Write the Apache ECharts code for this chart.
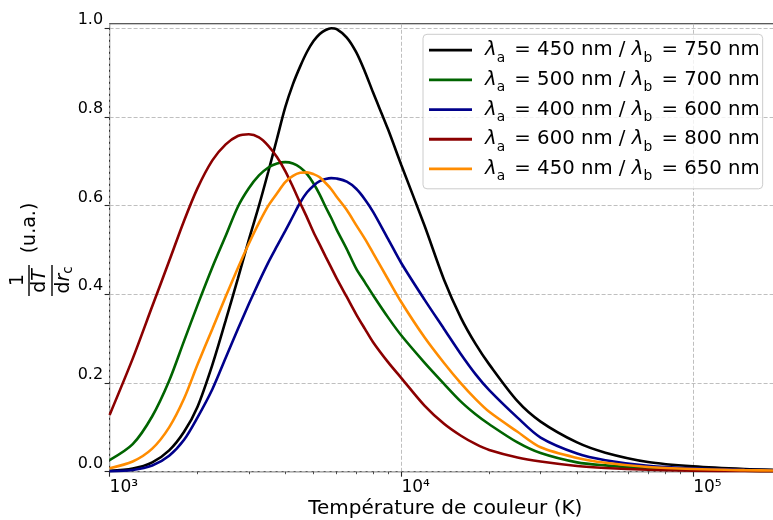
<!DOCTYPE html>
<html><head><meta charset="utf-8">
<script src="https://cdn.jsdelivr.net/npm/echarts@6/dist/echarts.min.js"></script>
<style>html,body{margin:0;padding:0;background:#fff}#c{width:773px;height:520px}</style>
</head><body><div id="c"></div>
<script>
// ---- data ----
const temperatures = [1000,1200,1400,1600,1800,2000,2250,2500,2750,3000,3250,3500,3750,4000,4250,4500,4750,5000,5250,5500,5750,6000,6500,7000,7500,8000,9000,10000,12000,14000,16000,18000,20000,25000,30000,40000,50000,70000,100000,150000,200000];
const curve450_750 = [0.002,0.007,0.021,0.048,0.09,0.146,0.241,0.341,0.435,0.523,0.600,0.677,0.752,0.822,0.874,0.914,0.947,0.971,0.987,0.996,1.0,0.998,0.979,0.946,0.902,0.855,0.772,0.691,0.555,0.433,0.347,0.287,0.242,0.159,0.113,0.066,0.043,0.022,0.012,0.006,0.004];
const curve500_700 = [0.026,0.062,0.125,0.205,0.295,0.375,0.461,0.532,0.597,0.639,0.668,0.686,0.695,0.698,0.695,0.686,0.671,0.650,0.625,0.597,0.572,0.546,0.502,0.458,0.427,0.398,0.348,0.307,0.246,0.198,0.158,0.129,0.107,0.066,0.042,0.021,0.0142,0.0075,0.0042,0.0022,0.0015];
const curve400_600 = [0.001,0.004,0.014,0.036,0.072,0.122,0.186,0.257,0.321,0.378,0.428,0.472,0.509,0.543,0.576,0.607,0.630,0.645,0.655,0.660,0.662,0.661,0.654,0.638,0.614,0.586,0.525,0.470,0.388,0.322,0.265,0.219,0.184,0.122,0.077,0.041,0.026,0.0135,0.0075,0.0045,0.003];
const curve600_800 = [0.128,0.255,0.373,0.475,0.566,0.639,0.702,0.738,0.757,0.761,0.754,0.735,0.709,0.678,0.642,0.606,0.573,0.540,0.512,0.485,0.460,0.436,0.394,0.355,0.322,0.292,0.247,0.211,0.149,0.108,0.081,0.062,0.049,0.032,0.023,0.013,0.0085,0.0045,0.0025,0.0015,0.001];
const curve450_650 = [0.008,0.023,0.052,0.100,0.165,0.241,0.322,0.395,0.459,0.514,0.561,0.600,0.628,0.653,0.667,0.674,0.675,0.671,0.664,0.651,0.637,0.620,0.590,0.556,0.525,0.493,0.434,0.382,0.303,0.245,0.199,0.163,0.135,0.090,0.055,0.031,0.020,0.0105,0.006,0.0035,0.0025];
const lambdaA = [450, 500, 400, 600, 450];
const lambdaB = [750, 700, 600, 800, 650];
const seriesColors = ['#000000', '#006400', '#00008b', '#8b0000', '#ff8c00'];
const seriesValues = [curve450_750, curve500_700, curve400_600, curve600_800, curve450_650];
const xMajorTicks = [1000, 10000, 100000];
const xMajorLabels = ['10³', '10⁴', '10⁵'];
const xMinorTicks = [2000,3000,4000,5000,6000,7000,8000,9000,20000,30000,40000,50000,60000,70000,80000,90000];
const yTicks = [0, 0.2, 0.4, 0.6, 0.8, 1.0];
const xTitle = 'Température de couleur (K)';

const FONT = '"DejaVu Sans"';
const names = lambdaA.map((a, i) => 'λa = ' + a + ' nm / λb = ' + lambdaB[i] + ' nm');

const chart = echarts.init(document.getElementById('c'), null, {renderer: 'canvas'});
const gridLine = {color: '#b8b8b8', width: 0.9, type: [4, 2]};
const spine = {color: '#262626', width: 1.1};

const option = {
  animation: false,
  backgroundColor: '#ffffff',
  grid: {left: 109.6, right: -8, top: 23.8, bottom: 48.3, containLabel: false, outerBoundsMode: 'none',
    show: true, borderColor: '#262626', borderWidth: 1.1, backgroundColor: 'transparent'},
  xAxis: [{
    type: 'log', logBase: 10, min: 1000, max: 200000,
    axisLine: {show: false},
    axisTick: {show: true, length: 5, lineStyle: spine, customValues: xMajorTicks},
    axisLabel: {
      customValues: xMajorTicks,
      align: 'left', margin: 7, color: '#000', fontFamily: FONT, fontSize: 17,
      formatter: v => xMajorLabels[xMajorTicks.findIndex(t => Math.abs(t - v) / t < 1e-6)] || ''
    },
    splitLine: {show: true, lineStyle: gridLine},
    name: xTitle, nameLocation: 'middle', nameGap: 27, nameMoveOverlap: false,
    nameTextStyle: {fontFamily: FONT, fontSize: 20, color: '#000'}
  }, {
    type: 'log', logBase: 10, min: 1000, max: 200000, position: 'bottom',
    axisLine: {show: false},
    axisTick: {show: true, length: 2.5, lineStyle: {color: '#262626', width: 0.8}, customValues: xMinorTicks},
    axisLabel: {show: false},
    splitLine: {show: false}
  }],
  yAxis: {
    type: 'value', min: 0, max: 1.01,
    axisLine: {show: false},
    axisTick: {show: true, length: 5, lineStyle: spine, customValues: yTicks},
    axisLabel: {
      customValues: yTicks, margin: 6.5, color: '#000', fontFamily: FONT, fontSize: 16,
      verticalAlign: 'bottom', lineHeight: 16, formatter: v => v.toFixed(1)
    },
    splitLine: {show: true, lineStyle: gridLine}
  },
  legend: {
    orient: 'vertical', left: 423, top: 34.3,
    icon: 'rect', itemWidth: 43, itemHeight: 2.8, itemGap: 0,
    padding: [1, 3, 5, 6],
    backgroundColor: 'rgba(255,255,255,0.8)', borderColor: '#cccccc', borderWidth: 1, borderRadius: 4,
    data: names,
    formatter: name => {
      const m = name.match(/λa = (\d+) nm \/ λb = (\d+) nm/);
      return '{l|λ}{s|a}{t| = ' + m[1] + ' nm / }{l|λ}{s|b}{t| = ' + m[2] + ' nm}';
    },
    textStyle: {
      fontFamily: FONT, fontSize: 19.7, color: '#000', padding: [0, 0, 0, 8], lineHeight: 29.7,
      rich: {
        t: {fontFamily: FONT, fontSize: 19.7, lineHeight: 29.7, color: '#000'},
        l: {fontFamily: FONT, fontSize: 19.7, fontStyle: 'italic', lineHeight: 29.7, color: '#000'},
        s: {fontFamily: FONT, fontSize: 13.8, lineHeight: 12, verticalAlign: 'bottom', color: '#000', padding: [0, 3, 0, 0]}
      }
    }
  },
  graphic: [
    {type: 'text', x: 30, y: 228, rotation: Math.PI / 2,
      style: {text: '(u.a.)', fontFamily: FONT, fontSize: 19, fill: '#000', align: 'center', verticalAlign: 'middle'}},
    {type: 'text', x: 18.5, y: 280, rotation: Math.PI / 2,
      style: {text: '1', fontFamily: FONT, fontSize: 19, fill: '#000', align: 'center', verticalAlign: 'middle'}},
    {type: 'line', shape: {x1: 29, y1: 265, x2: 29, y2: 296}, style: {stroke: '#000', lineWidth: 1.4}},
    {type: 'text', x: 40.5, y: 281, rotation: Math.PI / 2,
      style: {text: '{r|d}{i|T}', align: 'center', verticalAlign: 'middle',
        rich: {r: {fontFamily: FONT, fontSize: 19, fill: '#000'}, i: {fontFamily: FONT, fontSize: 19, fontStyle: 'italic', fill: '#000'}}}},
    {type: 'line', shape: {x1: 52, y1: 265, x2: 52, y2: 296}, style: {stroke: '#000', lineWidth: 1.4}},
    {type: 'text', x: 64, y: 280, rotation: Math.PI / 2,
      style: {text: '{r|d}{i|r}{s|c}', align: 'center', verticalAlign: 'middle',
        rich: {r: {fontFamily: FONT, fontSize: 19, fill: '#000', lineHeight: 22},
               i: {fontFamily: FONT, fontSize: 19, fontStyle: 'italic', fill: '#000', lineHeight: 22},
               s: {fontFamily: FONT, fontSize: 13.3, fill: '#000', lineHeight: 10, verticalAlign: 'bottom'}}}}
  ],
  series: names.map((n, i) => ({
    name: n, type: 'line', xAxisIndex: 0,
    data: temperatures.map((t, k) => [t, seriesValues[i][k]]),
    showSymbol: false, symbol: 'none', smooth: 0.3,
    lineStyle: {color: seriesColors[i], width: 2.6},
    itemStyle: {color: seriesColors[i]},
    emphasis: {disabled: true}
  }))
};
chart.setOption(option);
</script>
</body></html>
